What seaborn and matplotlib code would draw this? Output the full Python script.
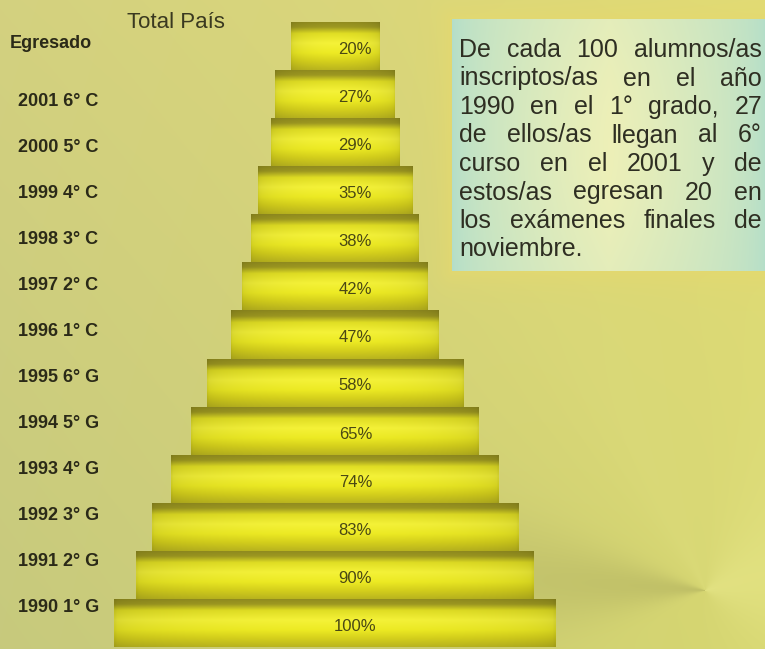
import numpy as np
import pandas as pd
import matplotlib
matplotlib.use("Agg")
import matplotlib.pyplot as plt
import seaborn as sns

# ---------------- data ----------------
niveles = ["Egresado", "2001 6° C", "2000 5° C", "1999 4° C", "1998 3° C",
           "1997 2° C", "1996 1° C", "1995 6° G", "1994 5° G", "1993 4° G",
           "1992 3° G", "1991 2° G", "1990 1° G"]
porcentajes = [20, 27, 29, 35, 38, 42, 47, 58, 65, 74, 83, 90, 100]
titulo = "Total País"
nota = ["De cada 100 alumnos/as",
        "inscriptos/as en el año",
        "1990 en el 1° grado, 27",
        "de ellos/as llegan al 6°",
        "curso en el 2001 y de",
        "estos/as egresan 20 en",
        "los exámenes finales de",
        "noviembre."]

plt.rcParams['font.family'] = ['Liberation Sans', 'DejaVu Sans']

W, H = 765, 649
fig = plt.figure(figsize=(W / 100, H / 100), dpi=100)

# ---------------- background ----------------
yy, xx = np.mgrid[0:H, 0:W].astype(float)
u = (xx / W)[..., None]
v = (yy / H)[..., None]
c_tl = np.array([0.83, 0.82, 0.50])
c_tr = np.array([0.88, 0.86, 0.46])
c_bl = np.array([0.78, 0.79, 0.49])
c_br = np.array([0.84, 0.84, 0.44])
bgimg = ((1 - u) * (1 - v) * c_tl + u * (1 - v) * c_tr +
         (1 - u) * v * c_bl + u * v * c_br)
cx, cy = 705.0, 590.0
dx = xx - cx
dy = cy - yy
theta = np.degrees(np.arctan2(dy, dx))
r = np.hypot(dx, dy)
wgt = np.clip(1 - r / 480.0, 0, 1) ** 0.8
d_dark = ((theta - 176 + 180) % 360) - 180
dark = np.exp(-(d_dark / 18.0) ** 2)
d_light = ((theta - 15 + 180) % 360) - 180
light = np.exp(-(d_light / 60.0) ** 2)
d_beam = ((theta - 115 + 180) % 360) - 180
beam = np.exp(-(d_beam / 15.0) ** 2)
bgimg = bgimg * (1 - 0.10 * dark * wgt)[..., None]
bgimg = bgimg + (np.array([0.95, 0.95, 0.60]) - bgimg) * (0.40 * light * wgt + 0.10 * beam * wgt)[..., None]

# glow around the text box
bx0, bx1, by0, by1 = 452, 765, 19, 271
ddx = np.maximum(np.maximum(bx0 - xx, xx - bx1), 0)
ddy = np.maximum(np.maximum(by0 - yy, yy - by1), 0)
dist = np.hypot(ddx, ddy)
glow = np.exp(-dist / 14.0)
bgimg = bgimg + (np.array([0.90, 0.85, 0.43]) - bgimg) * (0.7 * glow)[..., None]
bgimg = np.clip(bgimg, 0, 1)

bg = fig.add_axes([0, 0, 1, 1])
bg.set_xlim(0, W)
bg.set_ylim(H, 0)
bg.axis('off')
bg.imshow(bgimg, extent=(0, W, H, 0), aspect='auto', zorder=0, interpolation='bilinear')

# text box gradient
bw, bh = bx1 - bx0, by1 - by0
by_, bx_ = np.mgrid[0:bh, 0:bw].astype(float)
uu = bx_ / bw
vv = by_ / bh
f = np.clip(1 - np.abs(uu - 0.5) * 2.0, 0, 1) ** 0.6
f = f * (0.85 + 0.15 * np.sin(np.pi * vv))
cyan = np.array([0.70, 0.87, 0.79])
pale = np.array([0.93, 0.94, 0.72])
boximg = cyan + (pale - cyan) * f[..., None]
bg.imshow(boximg, extent=(bx0, bx1, by1, by0), aspect='auto', zorder=1, interpolation='bilinear')
bg.set_xlim(0, W)
bg.set_ylim(H, 0)

# ---------------- funnel bars ----------------
df = pd.DataFrame({"nivel": niveles, "pct": porcentajes})
top_px, bot_px = 22, 647
ax = fig.add_axes([114 / W, (H - bot_px) / H, 442 / W, (bot_px - top_px) / H])
sns.barplot(data=df, x="pct", y="nivel", order=niveles, orient="h", width=1.0,
            color="#eeee22", saturation=1, ax=ax, zorder=2)

# vertical cylinder shading profile
stops_t = [0.0, 0.12, 0.25, 0.45, 0.65, 0.82, 1.0]
stops_c = np.array([[0.56, 0.54, 0.12],
                    [0.62, 0.60, 0.13],
                    [0.88, 0.87, 0.14],
                    [0.96, 0.95, 0.22],
                    [0.93, 0.92, 0.14],
                    [0.84, 0.82, 0.11],
                    [0.73, 0.71, 0.12]])
nt = 96
tt = np.linspace(0, 1, nt)
prof = np.stack([np.interp(tt, stops_t, stops_c[:, k]) for k in range(3)], axis=1)
nu = 200
us = np.linspace(0, 1, nu)
hprof = 0.86 + 0.14 * np.sin(np.pi * us) ** 0.35
grad = np.clip(prof[:, None, :] * hprof[None, :, None], 0, 1)

for p in ax.patches:
    w = p.get_width()
    p.set_x(-w / 2)
    p.set_edgecolor('none')
    y0 = p.get_y()
    h = p.get_height()
    im = ax.imshow(grad, extent=(-w / 2, w / 2, y0 + h, y0), aspect='auto',
                   zorder=3, interpolation='bilinear')
    im.set_clip_path(p)

ax.set_xlim(-50, 50)
ax.set_ylim(len(niveles) - 0.5, -0.5)
ax.axis('off')

for i, val in enumerate(porcentajes):
    ax.text(4.6, i + 0.07, f"{val}%", ha='center', va='center', fontsize=12,
            color='#4a4814', zorder=6)

# ---------------- text ----------------
bg.text(176, 22, titulo, ha='center', va='center', fontsize=16, color='#3a3920', zorder=5)

label_y = [43] + [102 + 46.0 * k for k in range(len(niveles) - 1)]
for i, lab in enumerate(niveles):
    xl = 10 if i == 0 else 18
    bg.text(xl, label_y[i], lab, ha='left', va='center', fontsize=13,
            fontweight='bold', color='#2b2a18', zorder=5)

renderer = fig.canvas.get_renderer()
xl_box, xr_box = 459, 762
line_y0, line_dy = 50, 28.5
fs_box = 18
for j, line in enumerate(nota):
    yline = line_y0 + j * line_dy
    words = line.split(" ")
    texts = []
    widths = []
    for wd in words:
        t = bg.text(0, yline, wd, ha='left', va='center', fontsize=fs_box,
                    color='#2e2e22', zorder=5)
        widths.append(t.get_window_extent(renderer).width)
        texts.append(t)
    if j < len(nota) - 1 and len(words) > 1:
        gap = (xr_box - xl_box - sum(widths)) / (len(words) - 1)
    else:
        sp = bg.text(0, 0, "a b", fontsize=fs_box)
        sp2 = bg.text(0, 0, "ab", fontsize=fs_box)
        gap = sp.get_window_extent(renderer).width - sp2.get_window_extent(renderer).width
        sp.remove()
        sp2.remove()
    xcur = xl_box
    for t, wdt in zip(texts, widths):
        t.set_x(xcur)
        xcur += wdt + gap

fig.savefig("out.png", dpi=100)
